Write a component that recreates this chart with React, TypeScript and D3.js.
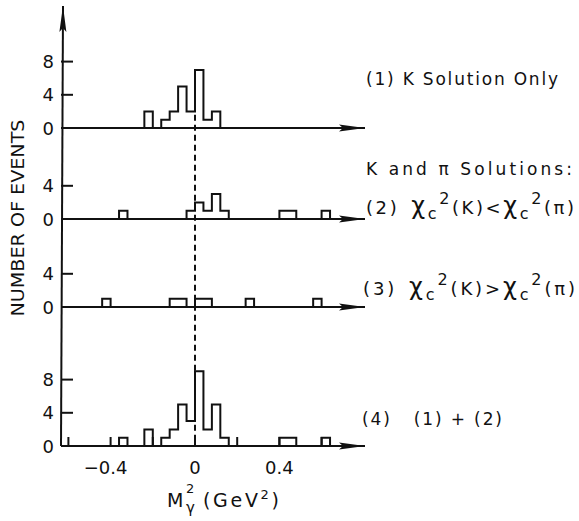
import * as React from 'react';
import * as d3 from 'd3';

// bin lower edges (GeV^2) and counts, bin width 0.04
const BIN = 0.04;
const kOnlyEdges = [-0.24, -0.16, -0.12, -0.08, -0.04, 0, 0.04, 0.08];
const kOnlyCounts = [2, 1, 2, 5, 2, 7, 1, 2];
const kLessEdges = [-0.36, -0.04, 0, 0.04, 0.08, 0.12, 0.4, 0.44, 0.6];
const kLessCounts = [1, 1, 2, 1, 3, 1, 1, 1, 1];
const kMoreEdges = [-0.44, -0.12, -0.08, 0, 0.04, 0.24, 0.56];
const kMoreCounts = [1, 1, 1, 1, 1, 1, 1];
const sumEdges = [-0.36, -0.24, -0.16, -0.12, -0.08, -0.04, 0, 0.04, 0.08, 0.12, 0.4, 0.44, 0.6];
const sumCounts = [1, 2, 1, 2, 5, 3, 9, 2, 5, 1, 1, 1, 1];

const xTickLabels = [-0.4, 0, 0.4];
const xMinorTicks = [-0.6, -0.4, -0.2, 0, 0.2, 0.4, 0.6];

const panels = [
  { edges: kOnlyEdges, counts: kOnlyCounts, base: 128, yTicks: [0, 4, 8] },
  { edges: kLessEdges, counts: kLessCounts, base: 219, yTicks: [0, 4] },
  { edges: kMoreEdges, counts: kMoreCounts, base: 307, yTicks: [0, 4] },
  { edges: sumEdges, counts: sumCounts, base: 446, yTicks: [0, 4, 8] },
];

const W = 579;
const H = 521;
const AXIS_X = 61;
const ARROW_X = 365;
const UNIT = 8.3;
const FONT = "'DejaVu Sans', 'Liberation Sans', sans-serif";

const x = d3.scaleLinear().domain([-0.6, 0.6]).range([68.4, 321.6]);

function runs(edges: number[], counts: number[]) {
  const out: { lo: number; h: number }[][] = [];
  let cur: { lo: number; h: number }[] = [];
  edges.forEach((lo, i) => {
    const prev = cur[cur.length - 1];
    if (prev && Math.abs(prev.lo + BIN - lo) > 1e-6) {
      out.push(cur);
      cur = [];
    }
    cur.push({ lo, h: counts[i] });
  });
  if (cur.length) out.push(cur);
  return out;
}

const Chi: React.FC<{ arg: string; first?: boolean }> = ({ arg, first }) => (
  <>
    <tspan dx={first ? 12 : 0} fontSize={24}>χ</tspan>
    <tspan fontSize={16} dy={5}>c</tspan>
    <tspan fontSize={16} dy={-15}>2</tspan>
    <tspan dy={10}>{arg}</tspan>
  </>
);

const App: React.FC = () => {
  const yScales = panels.map((p) => d3.scaleLinear().domain([0, 1]).range([p.base, p.base - UNIT]));
  const line = d3.line<[number, number]>();
  const bottom = panels[3].base;

  return (
    <svg width={W} height={H} style={{ position: 'absolute', left: 0, top: 0, background: '#fff' }}
      fontFamily={FONT}>
      <defs>
        <marker id="arr" viewBox="0 0 26 10" refX={26} refY={5} markerWidth={26} markerHeight={10}
          markerUnits="userSpaceOnUse" orient="auto">
          <path d="M0,1.5 L26,5 L0,8.5 L4,5 Z" fill="#111" />
        </marker>
      </defs>
      {/* y axis with arrow */}
      <line x1={AXIS_X} y1={bottom} x2={AXIS_X + 2} y2={6} stroke="#111" strokeWidth={2} markerEnd="url(#arr)" />

      {panels.map((p, pi) => {
        const y = yScales[pi];
        return (
          <g key={pi}>
            <line x1={AXIS_X} y1={p.base} x2={ARROW_X} y2={p.base} stroke="#111" strokeWidth={2}
              markerEnd="url(#arr)" />
            {p.yTicks.map((t) => (
              <g key={t}>
                <line x1={AXIS_X} x2={AXIS_X + 12} y1={y(t)} y2={y(t)} stroke="#111" strokeWidth={2} />
                <text x={54} y={y(t) + 6.5} textAnchor="end" fontSize={18} fill="#111">{t}</text>
              </g>
            ))}
            {runs(p.edges, p.counts).map((r, ri) => {
              const pts: [number, number][] = [[x(r[0].lo), y(0)]];
              r.forEach((b) => {
                pts.push([x(b.lo), y(b.h)]);
                pts.push([x(b.lo + BIN), y(b.h)]);
              });
              pts.push([x(r[r.length - 1].lo + BIN), y(0)]);
              return <path key={ri} d={line(pts) || ''} fill="none" stroke="#111" strokeWidth={2} />;
            })}
          </g>
        );
      })}

      {/* bottom panel x ticks */}
      {xMinorTicks.map((t) => (
        <line key={t} x1={x(t)} x2={x(t)} y1={bottom} y2={bottom - 9} stroke="#111" strokeWidth={2} />
      ))}
      {xTickLabels.map((t) => (
        <text key={t} x={x(t) + (t < 0 ? -5 : 0)} y={474} textAnchor="middle" fontSize={18} fill="#111">
          {t < 0 ? '\u2212' + Math.abs(t) : t === 0 ? '0' : t}
        </text>
      ))}

      {/* dashed zero line */}
      <line x1={x(0)} x2={x(0)} y1={yScales[0](1.6)} y2={bottom} stroke="#111" strokeWidth={2}
        strokeDasharray="6,4" />

      {/* axis titles */}
      <text transform="translate(24,218) rotate(-90)" textAnchor="middle" fontSize={17} fill="#111"
        textLength={197} lengthAdjust="spacingAndGlyphs">NUMBER OF EVENTS</text>
      <text x={167} y={507} fontSize={19} fill="#111">M</text>
      <text x={186} y={493} fontSize={13} fill="#111">2</text>
      <text x={186} y={513} fontSize={15} fill="#111">γ</text>
      <text x={203} y={507} fontSize={19} fill="#111" textLength={76} lengthAdjust="spacing">
        (GeV<tspan fontSize={13} dy={-8}>2</tspan><tspan dy={8}>)</tspan>
      </text>

      {/* panel labels */}
      <text x={366} y={85} fontSize={17} fill="#111" textLength={192} lengthAdjust="spacing">(1) K Solution Only</text>
      <text x={366} y={175} fontSize={17} fill="#111" textLength={206} lengthAdjust="spacing">K and π Solutions:</text>
      <text x={366} y={214} fontSize={18} fill="#111" textLength={208} lengthAdjust="spacing">
        (2)<Chi arg="(K)<" first /><Chi arg="(π)" />
      </text>
      <text x={363} y={295} fontSize={18} fill="#111" textLength={212} lengthAdjust="spacing">
        (3)<Chi arg="(K)>" first /><Chi arg="(π)" />
      </text>
      <text x={362} y={425} fontSize={17} fill="#111" xmlSpace="preserve" textLength={140}
        lengthAdjust="spacing">(4)   (1) + (2)</text>
    </svg>
  );
};

export default App;
